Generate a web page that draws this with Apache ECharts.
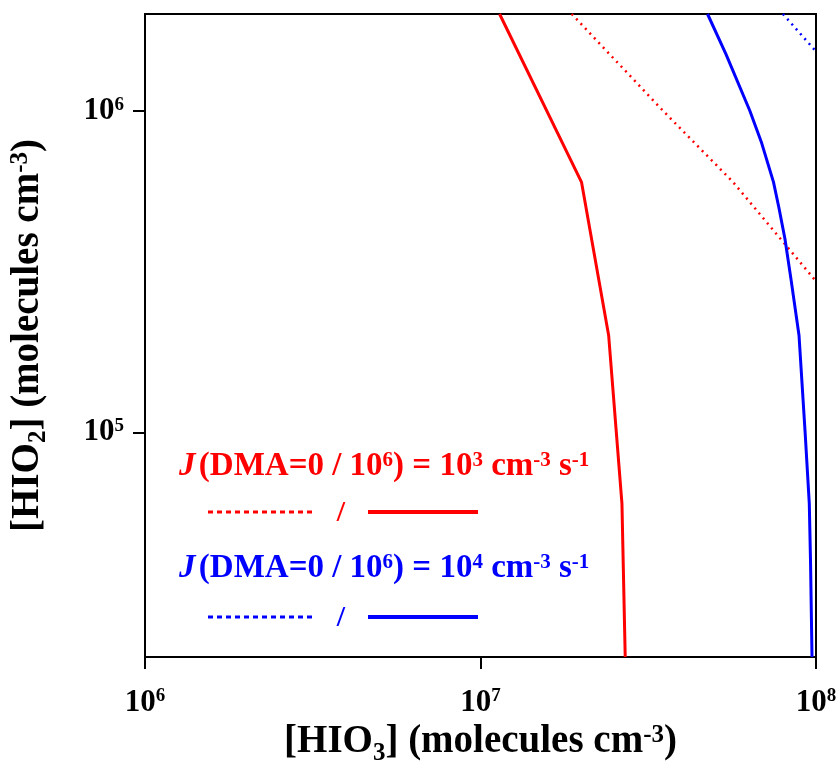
<!DOCTYPE html>
<html>
<head>
<meta charset="utf-8">
<script src="https://cdn.jsdelivr.net/npm/echarts@6/dist/echarts.min.js"></script>
<style>
  html, body { margin: 0; padding: 0; background: #fff; }
  #chart { width: 840px; height: 774px; }
</style>
</head>
<body>
<div id="chart"></div>
<script>
// axis extents, molecules cm^-3
const xRange = [1e6, 1e8];      // [HIO3]
const yRange = [2e4, 2e6];      // [HIO2]
const yTickValues = [1e5, 1e6];

// J = 10^3 cm-3 s-1, DMA = 10^6 (solid red)
const red1e6X = [1.14e7, 2.0e7, 2.41e7, 2.64e7, 2.70e7];
const red1e6Y = [2e6, 6e5, 2e5, 6e4, 2e4];
// J = 10^3, DMA = 0 (dotted red)
const red0X = [1.87e7, 3.5e7, 5.66e7, 1e8];
const red0Y = [2e6, 1e6, 6e5, 2.95e5];
// J = 10^4, DMA = 10^6 (solid blue)
const blue1e6X = [4.75e7, 5.39e7, 6.35e7, 6.87e7, 7.47e7, 7.75e7, 8.08e7, 8.42e7, 8.90e7, 9.28e7, 9.55e7, 9.63e7, 9.73e7];
const blue1e6Y = [2e6, 1.5e6, 1e6, 8e5, 6e5, 5e5, 4e5, 3e5, 2e5, 1e5, 6e4, 4e4, 2e4];
// J = 10^4, DMA = 0 (dotted blue)
const blue0X = [7.97e7, 1e8];
const blue0Y = [2e6, 1.53e6];

const serif = "'Liberation Serif', 'Times New Roman', serif";
const RED = '#ff0000';
const BLUE = '#0000ff';

function pairs(xs, ys) {
    return xs.map((x, i) => [x, ys[i]]);
}

// 10^n labels, blank for the non-decade edge ticks
function powLabel(v) {
    const e = Math.log10(v);
    if (Math.abs(e - Math.round(e)) > 1e-6) return '';
    return '{b|10}{s|' + Math.round(e) + '}';
}

const tickRich = {
    b: { fontFamily: serif, fontWeight: 'bold', fontSize: 31, color: '#000' },
    s: { fontFamily: serif, fontWeight: 'bold', fontSize: 19, color: '#000', verticalAlign: 'top' }
};

// sub/sup pushed with top padding, the main run stays centred in the line
const nameRich = {
    n: { fontFamily: serif, fontWeight: 'bold', fontSize: 39, color: '#000', lineHeight: 39 },
    sub: { fontFamily: serif, fontWeight: 'bold', fontSize: 25, color: '#000', verticalAlign: 'top', padding: [22, 0, 0, 0] },
    sup: { fontFamily: serif, fontWeight: 'bold', fontSize: 25, color: '#000', verticalAlign: 'top', padding: [4, 0, 0, 0] }
};

function legendRich(color) {
    return {
        j: { fontFamily: serif, fontWeight: 'bold', fontStyle: 'italic', fontSize: 33, fill: color },
        n: { fontFamily: serif, fontWeight: 'bold', fontSize: 33, fill: color },
        s: { fontFamily: serif, fontWeight: 'bold', fontSize: 21, fill: color, verticalAlign: 'top' }
    };
}

function legendBlock(color, textTop, lineY) {
    return [
        {
            type: 'text', left: 179, top: textTop,
            style: {
                text: '{j|J} {n|(DMA=0 / 10}{s|6}{n|) = 10}{s|' + (color === RED ? 3 : 4) + '}{n| cm}{s|-3}{n| s}{s|-1}',
                rich: legendRich(color), fill: color
            }
        },
        {
            type: 'line',
            shape: { x1: 208, y1: lineY, x2: 313, y2: lineY },
            style: { stroke: color, lineWidth: 3, lineDash: [5, 4] }
        },
        {
            type: 'text', x: 341, y: lineY + 1,
            style: {
                text: '/', fill: color, font: 'bold 30px ' + serif,
                textAlign: 'center', textVerticalAlign: 'middle'
            }
        },
        {
            type: 'line',
            shape: { x1: 368, y1: lineY, x2: 478, y2: lineY },
            style: { stroke: color, lineWidth: 4 }
        }
    ];
}

const chart = echarts.init(document.getElementById('chart'));

chart.setOption({
    animation: false,
    backgroundColor: '#fff',
    grid: {
        left: 145, right: 24, top: 14, bottom: 117,
        show: true, borderColor: '#000', borderWidth: 2,
        containLabel: false, outerBoundsMode: 'none'
    },
    xAxis: {
        type: 'log', logBase: 10, min: xRange[0], max: xRange[1],
        name: '{n|[HIO}{sub|3}{n|] (molecules cm}{sup|-3}{n|)}',
        nameLocation: 'middle', nameGap: 58,
        nameTextStyle: { rich: nameRich },
        axisLine: { onZero: false, lineStyle: { color: '#000', width: 2 } },
        axisTick: { show: true, inside: false, length: 12, lineStyle: { color: '#000', width: 2 } },
        minorTick: { show: false },
        splitLine: { show: false },
        axisLabel: { margin: 30, formatter: powLabel, rich: tickRich }
    },
    yAxis: {
        type: 'log', logBase: 10, min: yRange[0], max: yRange[1],
        name: '{n|[HIO}{sub|2}{n|] (molecules cm}{sup|-3}{n|)}',
        nameLocation: 'middle', nameGap: 94,
        nameTextStyle: { rich: nameRich },
        axisLine: { onZero: false, lineStyle: { color: '#000', width: 2 } },
        axisTick: {
            show: true, inside: false, length: 12, customValues: yTickValues,
            lineStyle: { color: '#000', width: 2 }
        },
        minorTick: { show: false },
        splitLine: { show: false },
        axisLabel: { margin: 21, formatter: powLabel, rich: tickRich }
    },
    series: [
        {
            type: 'line', data: pairs(red0X, red0Y), showSymbol: false, clip: true,
            lineStyle: { color: RED, width: 2.5, type: [2, 4.5] }
        },
        {
            type: 'line', data: pairs(red1e6X, red1e6Y), showSymbol: false, clip: true,
            lineStyle: { color: RED, width: 3 }
        },
        {
            type: 'line', data: pairs(blue0X, blue0Y), showSymbol: false, clip: true,
            lineStyle: { color: BLUE, width: 2.5, type: [2, 4.5] }
        },
        {
            type: 'line', data: pairs(blue1e6X, blue1e6Y), showSymbol: false, clip: true,
            lineStyle: { color: BLUE, width: 3 }
        }
    ],
    graphic: [].concat(
        legendBlock(RED, 450, 512),
        legendBlock(BLUE, 552, 617)
    )
});

window.addEventListener('resize', () => chart.resize());
</script>
</body>
</html>
